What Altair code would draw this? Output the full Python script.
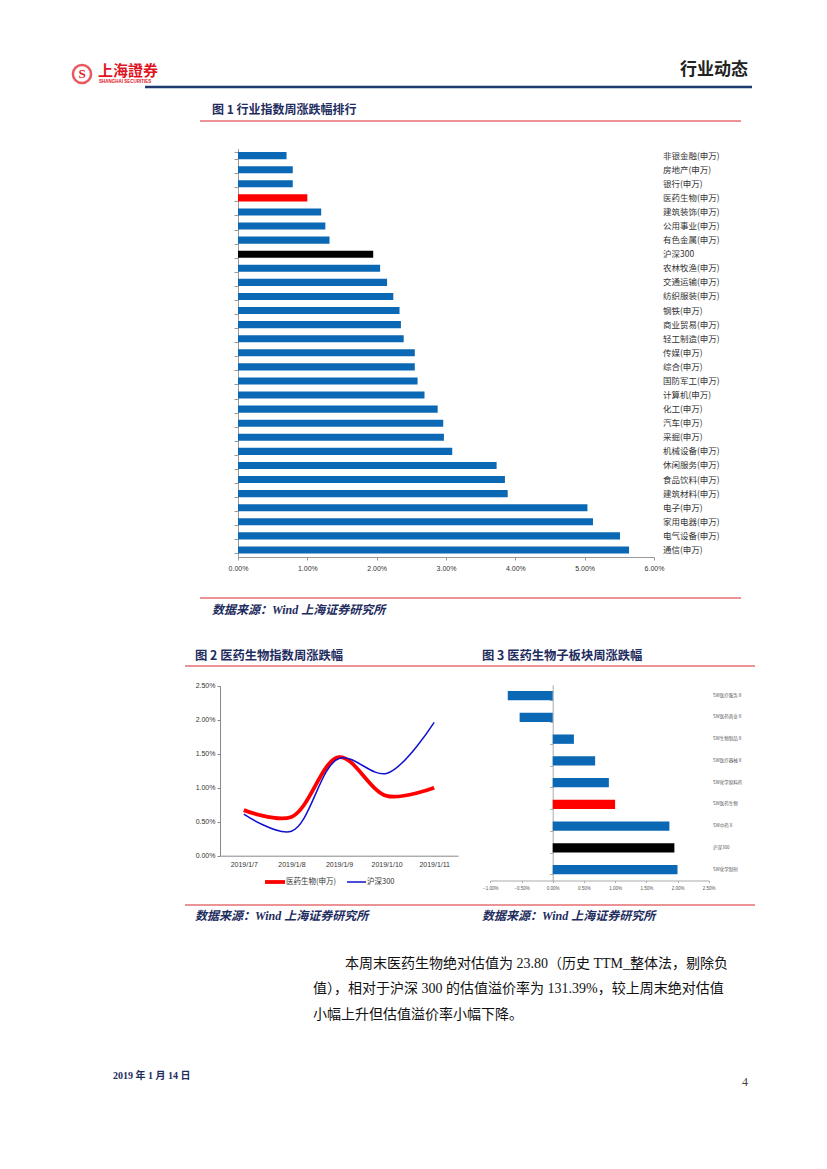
import altair as alt
import pandas as pd

# ---------------- data ----------------
ind_names = ["非银金融(申万)", "房地产(申万)", "银行(申万)", "医药生物(申万)", "建筑装饰(申万)",
             "公用事业(申万)", "有色金属(申万)", "沪深300", "农林牧渔(申万)", "交通运输(申万)",
             "纺织服装(申万)", "钢铁(申万)", "商业贸易(申万)", "轻工制造(申万)", "传媒(申万)",
             "综合(申万)", "国防军工(申万)", "计算机(申万)", "化工(申万)", "汽车(申万)",
             "采掘(申万)", "机械设备(申万)", "休闲服务(申万)", "食品饮料(申万)", "建筑材料(申万)",
             "电子(申万)", "家用电器(申万)", "电气设备(申万)", "通信(申万)"]
ind_values = [0.70, 0.79, 0.79, 1.00, 1.20, 1.26, 1.32, 1.95, 2.05, 2.15, 2.24, 2.33, 2.35, 2.39,
              2.55, 2.55, 2.59, 2.69, 2.88, 2.96, 2.97, 3.09, 3.73, 3.85, 3.89, 5.04, 5.12, 5.51, 5.64]

dates = ["2019/1/7", "2019/1/8", "2019/1/9", "2019/1/10", "2019/1/11"]
pharma_line = [0.67, 0.57, 1.45, 0.88, 1.00]
hs300_line = [0.61, 0.36, 1.43, 1.21, 1.96]
series_names = ["医药生物(申万)", "沪深300"]

sub_names = ["SW医疗服务Ⅱ", "SW医药商业Ⅱ", "SW生物制品Ⅱ", "SW医疗器械Ⅱ", "SW化学原料药",
             "SW医药生物", "SW中药Ⅱ", "沪深300", "SW化学制剂"]
sub_values = [-0.72, -0.53, 0.34, 0.68, 0.90, 1.00, 1.87, 1.95, 2.00]

pct_ticks_1 = [0, 0.01, 0.02, 0.03, 0.04, 0.05, 0.06]
pct_ticks_2 = [0, 0.005, 0.01, 0.015, 0.02, 0.025]
pct_ticks_3 = [-0.01, -0.005, 0, 0.005, 0.01, 0.015, 0.02, 0.025]

# ---------------- styles ----------------
W, H = 811, 1153
CJK = "Noto Sans CJK SC"
SANS = "Liberation Sans, Noto Sans CJK SC"
SERIF = "Liberation Serif, Noto Sans CJK SC"
BLUE = "#0A68B5"
RED = "#FF0000"
LINE_RED = "#D8262B"
NAVY = "#1E2C5E"


def grp(n):
    if n.startswith("沪深"):
        return "hs"
    if "医药生物" in n:
        return "pharma"
    return "other"


dummy = alt.Data(values=[{"k": 0}])


def text(s, x, y, size, color, weight="normal", align="left", font=CJK, style="normal"):
    return alt.Chart(dummy).mark_text(
        text=s, fontSize=size, color=color, fontWeight=weight, align=align,
        font=font, fontStyle=style, baseline="middle"
    ).encode(x=alt.value(x - 8), y=alt.value(y - 8))


def hline(x1, x2, y, color, width):
    return alt.Chart(dummy).mark_rule(color=color, strokeWidth=width).encode(
        x=alt.value(x1 - 8), x2=alt.value(x2 - 8), y=alt.value(y - 8))


layers = []

# ---------------- header ----------------
layers.append(alt.Chart(dummy).mark_point(shape="circle", size=330, filled=False, color="#E0141E",
                                          strokeWidth=2.5).encode(x=alt.value(82 - 8), y=alt.value(74 - 8)))
layers.append(text("S", 82, 74, 13, "#E0141E", weight="bold", align="center", font=SERIF))
layers.append(text("上海證券", 98, 71, 15, "#E0141E", weight="bold"))
layers.append(text("SHANGHAI SECURITIES", 99, 82, 4.5, "#E0141E", weight="bold", font=SANS))
layers.append(text("行业动态", 748, 70, 17, "#222222", weight="bold", align="right"))
layers.append(hline(145, 752, 87, "#1F3A6E", 2.5))

# ---------------- figure 1 ----------------
layers.append(text("图 1 行业指数周涨跌幅排行", 212, 110, 12, NAVY, weight="bold"))
layers.append(hline(200, 741, 121, LINE_RED, 1))

df1 = pd.DataFrame({"name": ind_names,
                    "value": [v / 100 for v in ind_values],
                    "grp": [grp(n) for n in ind_names]})
y1 = alt.Scale(domain=ind_names, range=[140.6, 549.0], paddingInner=0.5, paddingOuter=0.25)
x1 = alt.Scale(domain=[0, 0.06], range=[230, 646], nice=False)
col1 = alt.Scale(domain=["other", "pharma", "hs"], range=[BLUE, RED, "#000000"])

layers.append(alt.Chart(df1).mark_bar().encode(
    x=alt.X("value:Q", scale=x1, axis=alt.Axis(
        orient="bottom", offset=549.0 - H, values=pct_ticks_1, format=".2%", title=None,
        grid=False, labelFontSize=7, labelFont=SANS, labelColor="#333333", tickSize=3,
        tickColor="#999999", domainColor="#999999", labelPadding=4, labelFlush=False)),
    y=alt.Y("name:N", scale=y1, sort=ind_names, axis=alt.Axis(
        orient="left", offset=-230, labels=False, title=None, grid=False, tickBand="extent",
        tickSize=4, tickColor="#999999", domainColor="#999999")),
    color=alt.Color("grp:N", scale=col1, legend=None),
))
layers.append(alt.Chart(df1).mark_text(align="left", baseline="middle", fontSize=8.5, font=CJK,
                                       color="#333333").encode(
    y=alt.Y("name:N", scale=y1, sort=ind_names, axis=None),
    x=alt.value(663 - 8),
    text="name:N",
))

layers.append(hline(200, 741, 598, LINE_RED, 1))
layers.append(text("数据来源：Wind  上海证券研究所", 212, 610, 12, NAVY, weight="bold", style="italic", font=SERIF))

# ---------------- figure 2 / 3 titles ----------------
layers.append(text("图 2 医药生物指数周涨跌幅", 195, 656, 12.3, NAVY, weight="bold"))
layers.append(text("图 3 医药生物子板块周涨跌幅", 482, 656, 12.3, NAVY, weight="bold"))
layers.append(hline(185, 755, 666, LINE_RED, 1))

# ---------------- figure 2 ----------------
df2 = pd.DataFrame({"date": dates * 2,
                    "value": [v / 100 for v in pharma_line] + [v / 100 for v in hs300_line],
                    "series": [series_names[0]] * len(dates) + [series_names[1]] * len(dates)})
x2 = alt.Scale(type="point", domain=dates, range=[212, 450], padding=0.5)
y2 = alt.Scale(domain=[0, 0.025], range=[847.7, 677.7], nice=False, zero=True)

layers.append(alt.Chart(df2).transform_filter(alt.datum.series == series_names[0]).mark_line(
    color=RED, strokeWidth=3.8, interpolate="catmull-rom").encode(
    x=alt.X("date:N", scale=x2, sort=dates, axis=alt.Axis(
        orient="bottom", offset=847.7 - H, title=None, labelAngle=0, ticks=False, grid=False,
        labelFontSize=7, labelFont=SANS, labelColor="#333333", domainColor="#888888",
        labelPadding=5)),
    y=alt.Y("value:Q", scale=y2, axis=alt.Axis(
        orient="left", offset=-212, values=pct_ticks_2, format=".2%", title=None, grid=False,
        labelFontSize=7, labelFont=SANS, labelColor="#333333", tickSize=3,
        tickColor="#888888", domainColor="#888888", labelPadding=2)),
))
layers.append(alt.Chart(df2).transform_filter(alt.datum.series == series_names[1]).mark_line(
    color="#1010D0", strokeWidth=1.5, interpolate="catmull-rom").encode(
    x=alt.X("date:N", scale=x2, sort=dates, axis=None),
    y=alt.Y("value:Q", scale=y2, axis=None),
))
# legend
layers.append(hline(265, 285, 882, RED, 3.8))
layers.append(text(series_names[0], 286, 882, 7.5, "#333333"))
layers.append(hline(347, 366, 882, "#1010D0", 1.5))
layers.append(text(series_names[1], 367, 882, 7.5, "#333333"))

# ---------------- figure 3 ----------------
df3 = pd.DataFrame({"name": sub_names,
                    "value": [v / 100 for v in sub_values],
                    "grp": [grp(n) for n in sub_names]})
y3 = alt.Scale(domain=sub_names, range=[676.8, 872.5], paddingInner=0.57, paddingOuter=0.285)
x3 = alt.Scale(domain=[-0.01, 0.025], range=[482.3, 700.7], nice=False)
col3 = alt.Scale(domain=["other", "pharma", "hs"], range=[BLUE, RED, "#000000"])

layers.append(alt.Chart(df3).mark_bar().encode(
    x=alt.X("value:Q", scale=x3, axis=alt.Axis(
        orient="bottom", offset=872.5 - H, values=pct_ticks_3, format=".2%", title=None,
        grid=False, labelFontSize=4.5, labelFont=SANS, labelColor="#555555", tickSize=2,
        tickColor="#aaaaaa", domainColor="#aaaaaa", labelPadding=3, labelFlush=False)),
    y=alt.Y("name:N", scale=y3, sort=sub_names, axis=alt.Axis(
        orient="left", offset=-(552.7 - 8), labels=False, title=None, grid=False,
        tickBand="extent", tickSize=3, tickColor="#aaaaaa", domainColor="#aaaaaa")),
    color=alt.Color("grp:N", scale=col3, legend=None),
))
layers.append(alt.Chart(df3).mark_text(align="left", baseline="middle", fontSize=4.5, font=CJK,
                                       color="#555555").encode(
    y=alt.Y("name:N", scale=y3, sort=sub_names, axis=None),
    x=alt.value(713 - 8),
    text="name:N",
))

layers.append(hline(185, 755, 905, LINE_RED, 1))
layers.append(text("数据来源：Wind 上海证券研究所", 195, 916, 12, NAVY, weight="bold", style="italic", font=SERIF))
layers.append(text("数据来源：Wind 上海证券研究所", 482, 916, 12, NAVY, weight="bold", style="italic", font=SERIF))

# ---------------- paragraph ----------------
layers.append(text("本周末医药生物绝对估值为 23.80（历史 TTM_整体法，剔除负", 345, 964, 14, "#111111", font=SERIF))
layers.append(text("值），相对于沪深 300 的估值溢价率为 131.39%，较上周末绝对估值", 313, 989, 14, "#111111", font=SERIF))
layers.append(text("小幅上升但估值溢价率小幅下降。", 313, 1015, 14, "#111111", font=SERIF))

# ---------------- footer ----------------
layers.append(text("2019 年 1 月 14 日", 113, 1076, 10, NAVY, weight="bold", font=SERIF))
layers.append(text("4", 748, 1082, 12, "#444444", align="right", font=SERIF))

chart = alt.layer(*layers).properties(
    width=W, height=H, autosize=alt.AutoSizeParams(type="none"), padding=0, background="white"
).resolve_scale(
    x="independent", y="independent", color="independent"
).resolve_axis(
    x="independent", y="independent"
).configure_view(stroke=None)

chart.save("out.html", embed_options={"renderer": "svg", "actions": False})
